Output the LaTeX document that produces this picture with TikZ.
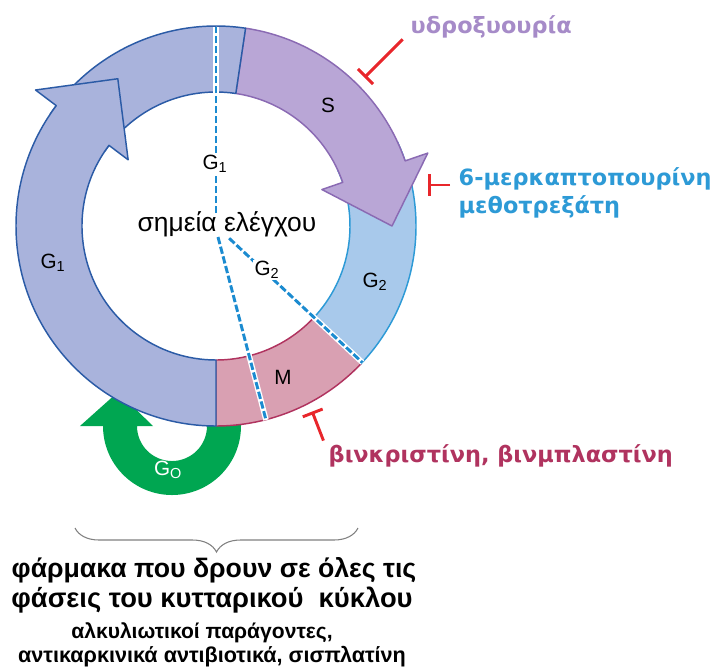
\documentclass[tikz,border=0pt]{standalone}
\usepackage{fontspec}
\setmainfont{Liberation Sans}
\newfontfamily\drugfont{DejaVu Sans}
\usetikzlibrary{arrows.meta,decorations.pathreplacing}
\definecolor{gonefill}{HTML}{A9B3DC}
\definecolor{goneline}{HTML}{2B5BA6}
\definecolor{sfill}{HTML}{B9A6D6}
\definecolor{sline}{HTML}{8A6AB3}
\definecolor{gtwofill}{HTML}{A8C9EB}
\definecolor{gtwoline}{HTML}{2D9AD6}
\definecolor{mfill}{HTML}{D9A0B2}
\definecolor{mline}{HTML}{B0335F}
\definecolor{checkblue}{HTML}{1B8BD0}
\definecolor{inhred}{HTML}{E8262B}
\definecolor{hucolor}{HTML}{A68BC8}
\definecolor{zerogreen}{HTML}{00A651}

\begin{document}
\begin{tikzpicture}[x=0.75pt,y=0.75pt,
    band/.style={line width=1.1pt, line join=round},
    phase/.style={font=\fontsize{15.5}{18}\selectfont},
    checkdash/.style={draw=checkblue, line width=2.2pt, dash pattern=on 5.5pt off 2pt,
        preaction={draw=white, line width=4.2pt, solid}},
    inhib/.style={draw=inhred, line width=2.2pt, -{Bar[width=16pt]}},
    druglabel/.style={anchor=base west, font=\fontsize{16.8}{20}\selectfont\drugfont\bfseries},
    footlabel/.style={anchor=base, font=\fontsize{20}{24}\selectfont\bfseries}]
    \useasboundingbox (-216,226) rectangle (500,-443);

    % G0 loop, under the ring
    \fill[zerogreen] (-9,-165) -- (-9,-200) arc[start angle=0, end angle=-180, radius=35]
        -- (-63,-200) -- (-98,-166) -- (-136,-200) -- (-113,-200)
        arc[start angle=180, end angle=360, radius=69] -- (25,-165) -- cycle;

    % M band
    \filldraw[band, fill=mfill, draw=mline] (-43.5:134) -- (-43.5:200)
        arc[start angle=-43.5, end angle=-90, radius=200] -- (-90:134)
        arc[start angle=-90, end angle=-43.5, radius=134] -- cycle;

    % G2 band
    \filldraw[band, fill=gtwofill, draw=gtwoline] (25:134) -- (25:200)
        arc[start angle=25, end angle=-43.5, radius=200] -- (-43.5:134)
        arc[start angle=-43.5, end angle=25, radius=134] -- cycle;

    % S arrow
    \filldraw[band, fill=sfill, draw=sline] (81.5:200)
        arc[start angle=81.5, end angle=19, radius=200] -- (19:224) -- (0:176)
        -- (19:112) -- (19:134) arc[start angle=19, end angle=81.5, radius=134] -- cycle;

    % G1 arrow
    \filldraw[band, fill=gonefill, draw=goneline] (81.5:134) -- (81.5:200)
        arc[start angle=81.5, end angle=146, radius=200] -- (146:134)
        arc[start angle=146, end angle=81.5, radius=134] -- cycle;
    \filldraw[band, fill=gonefill, draw=goneline] (270:200)
        arc[start angle=270, end angle=143, radius=200] -- (143:226) -- (123.7:177)
        -- (143:110) -- (143:134) arc[start angle=143, end angle=270, radius=134] -- cycle;

    % checkpoints
    \coordinate (ckone) at (0,13);
    \coordinate (ckoneend) at (90:199);
    \coordinate (cktwo) at (-43:18);
    \coordinate (cktwoend) at (-43:200);
    \coordinate (ckm) at (2,-11);
    \coordinate (ckmend) at (50,-194);
    \draw[checkdash] (ckone) -- (ckoneend);
    \draw[checkdash] (cktwo) -- (cktwoend);
    \draw[checkdash] (ckm) -- (ckmend);

    \node[phase, fill=white, inner sep=1pt] (gonein) at (-1,62) {G\textsubscript{1}};
    \node[phase, fill=white, inner sep=1pt] (gtwoin) at (51,-44) {G\textsubscript{2}};
    \node[font=\fontsize{19.8}{24}\selectfont] (checkpts) at (11,2) {σημεία ελέγχου};

    % phase names
    \node[phase] (gone) at (-163,-37) {G\textsubscript{1}};
    \node[phase] (sph) at (112,121) {S};
    \node[phase] (gtwo) at (159,-56) {G\textsubscript{2}};
    \node[phase] (mph) at (67,-151) {M};
    \node[phase, text=white] (gzero) at (-48,-244) {G\textsubscript{O}};

    % drugs
    \coordinate (huA) at (45:264);
    \coordinate (huB) at (45:210);
    \draw[inhib] (huA) -- (huB);
    \node[druglabel, text=hucolor] (hu) at (190,193) {υδροξυουρία};

    \coordinate (mpA) at (234,41);
    \coordinate (mpB) at (212,41);
    \draw[inhib] (mpA) -- (mpB);
    \node[druglabel, text=gtwoline] (mp) at (238,41) {6-μερκαπτοπουρίνη};
    \node[druglabel, text=gtwoline] (mtx) at (238,13) {μεθοτρεξάτη};

    \coordinate (vcA) at (-63.4:240);
    \coordinate (vcB) at (-62.6:209);
    \draw[inhib] (vcA) -- (vcB);
    \node[druglabel, text=mline] (vc) at (108,-236) {βινκριστίνη, βινμπλαστίνη};

    % all phases
    \draw[decorate, decoration={brace, amplitude=18pt}, draw=gray, line width=0.8pt]
        (142,-302) -- (-141,-302);
    \node[footlabel] (allA) at (-2,-351) {φάρμακα που δρουν σε όλες τις};
    \node[footlabel, font=\fontsize{20.5}{24}\selectfont\bfseries] (allB) at (-4,-381)
        {φάσεις του κυτταρικού\ \ κύκλου};
    \node[footlabel, font=\fontsize{15.8}{19}\selectfont\bfseries] (allC) at (-14,-412)
        {αλκυλιωτικοί παράγοντες,};
    \node[footlabel, font=\fontsize{16.2}{19}\selectfont\bfseries] (allD) at (-4,-436)
        {αντικαρκινικά αντιβιοτικά, σισπλατίνη};
\end{tikzpicture}
\end{document}
